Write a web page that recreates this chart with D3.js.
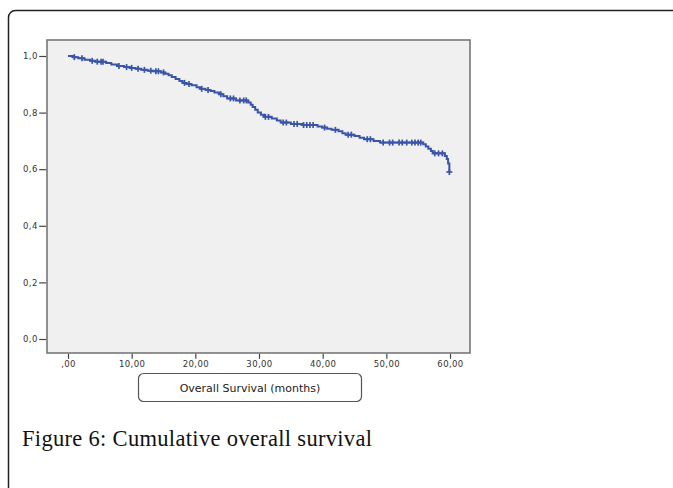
<!DOCTYPE html>
<html>
<head>
<meta charset="utf-8">
<script src="https://cdn.jsdelivr.net/npm/d3@7"></script>
<style>
  body { margin: 0; background: #fff; }
  svg { display: block; }
</style>
</head>
<body>
<div id="chart"></div>
<script>
// 数据区：Kaplan-Meier 阶梯（事件时间、累计生存率），删失时间
const eventTimes = [0.0, 0.8, 1.6, 2.6, 3.5, 4.3, 6.0, 6.8, 7.7, 8.8, 9.7, 10.6, 11.5, 12.5, 13.4, 14.6,
  15.2, 15.8, 16.3, 16.9, 17.5, 18.0, 18.6, 19.4, 20.2, 20.8, 21.6, 22.4, 23.0, 23.7, 24.4, 25.0,
  26.4, 28.3, 28.7, 29.0, 29.4, 29.8, 30.3, 30.8, 32.0, 32.8, 33.4, 35.0, 36.8, 39.2, 39.9, 40.7,
  41.4, 42.5, 43.1, 43.6, 45.0, 45.8, 46.5, 48.0, 49.0, 55.8, 56.2, 56.6, 57.0, 57.3, 59.2, 59.5,
  59.7, 59.9];
const survival = [1.000, 0.996, 0.992, 0.987, 0.983, 0.980, 0.975, 0.970, 0.965, 0.961, 0.958, 0.955,
  0.951, 0.948, 0.946, 0.942, 0.937, 0.932, 0.926, 0.919, 0.912, 0.905, 0.901, 0.897, 0.890, 0.884,
  0.880, 0.876, 0.871, 0.865, 0.858, 0.850, 0.843, 0.836, 0.828, 0.820, 0.810, 0.800, 0.792, 0.785,
  0.779, 0.772, 0.765, 0.760, 0.756, 0.751, 0.747, 0.743, 0.739, 0.734, 0.727, 0.722, 0.717, 0.711,
  0.706, 0.700, 0.694, 0.688, 0.680, 0.672, 0.664, 0.656, 0.647, 0.636, 0.620, 0.590];
const censorTimes = [1.0, 2.2, 3.8, 4.6, 5.2, 5.5, 8.0, 9.2, 10.0, 11.0, 12.0, 13.0, 13.8, 14.2, 15.0,
  18.3, 19.0, 21.0, 22.0, 24.0, 25.5, 26.0, 27.0, 27.6, 28.0, 31.0, 31.5, 33.8, 34.3, 35.5, 36.0,
  37.0, 37.5, 38.0, 38.5, 40.3, 42.0, 44.0, 44.5, 47.0, 47.5, 49.5, 50.5, 51.0, 52.0, 52.5, 53.2,
  54.0, 54.5, 55.0, 55.4, 57.6, 58.2, 58.8, 59.9];
const xTicks = [0, 10, 20, 30, 40, 50, 60];
const xTickLabels = [",00", "10,00", "20,00", "30,00", "40,00", "50,00", "60,00"];
const yTicks = [0, 0.2, 0.4, 0.6, 0.8, 1.0];
const yTickLabels = ["0,0", "0,2", "0,4", "0,6", "0,8", "1,0"];
const axisTitle = "Overall Survival (months)";
const caption = "Figure 6: Cumulative overall survival";

// 布局常量
const W = 673, H = 488;
const plot = { left: 47, top: 40, right: 470, bottom: 353 };
const blue = "#3a55a8";

const svg = d3.select("#chart").append("svg")
  .attr("width", W).attr("height", H);

// 外框（延伸出画面右侧和底部）
svg.append("rect")
  .attr("x", 8.5).attr("y", 10.5)
  .attr("width", 720).attr("height", 520)
  .attr("rx", 7)
  .attr("fill", "none")
  .attr("stroke", "#222")
  .attr("stroke-width", 1.5);

const xScale = d3.scaleLinear().domain([0, 60]).range([68, 450]);
const yScale = d3.scaleLinear().domain([0, 1]).range([339, 56]);

// 绘图区背景
svg.append("rect")
  .attr("x", plot.left).attr("y", plot.top)
  .attr("width", plot.right - plot.left).attr("height", plot.bottom - plot.top)
  .attr("fill", "#f0f0f0")
  .attr("stroke", "#777")
  .attr("stroke-width", 1.6);

// y轴
const yAxis = svg.append("g")
  .attr("transform", `translate(${plot.left - 0.8},0)`)
  .call(d3.axisLeft(yScale).tickValues(yTicks).tickSize(7).tickPadding(1.5)
    .tickFormat((d, i) => yTickLabels[i]));
yAxis.select(".domain").remove();
yAxis.selectAll("line").attr("stroke", "#444").attr("stroke-width", 1.2);
yAxis.selectAll("text")
  .style("font-family", "DejaVu Sans, sans-serif")
  .style("font-size", "8.5px")
  .style("letter-spacing", "0.4px")
  .attr("fill", "#333");

// x轴
const xAxis = svg.append("g")
  .attr("transform", `translate(0,${plot.bottom + 0.8})`)
  .call(d3.axisBottom(xScale).tickValues(xTicks).tickSize(5).tickPadding(2)
    .tickFormat((d, i) => xTickLabels[i]));
xAxis.select(".domain").remove();
xAxis.selectAll("line").attr("stroke", "#444").attr("stroke-width", 1.2);
xAxis.selectAll("text")
  .style("font-family", "DejaVu Sans, sans-serif")
  .style("font-size", "8.5px")
  .style("letter-spacing", "0.4px")
  .attr("fill", "#333");

// 生存曲线
const steps = eventTimes.map((t, i) => ({ t: t, s: survival[i] }));
const line = d3.line()
  .x(d => xScale(d.t))
  .y(d => yScale(d.s))
  .curve(d3.curveStepAfter);
svg.append("path")
  .attr("d", line(steps))
  .attr("fill", "none")
  .attr("stroke", blue)
  .attr("stroke-width", 2);

// 删失标记
function survAt(t) {
  let s = 1;
  for (let i = 0; i < eventTimes.length; i++) {
    if (eventTimes[i] <= t) s = survival[i];
  }
  return s;
}
const marks = svg.append("g").attr("stroke", blue).attr("stroke-width", 1.7);
censorTimes.forEach(t => {
  const cx = xScale(t), cy = yScale(survAt(t));
  marks.append("line").attr("x1", cx - 3).attr("x2", cx + 3).attr("y1", cy).attr("y2", cy);
  marks.append("line").attr("x1", cx).attr("x2", cx).attr("y1", cy - 3).attr("y2", cy + 3);
});

// 坐标轴标题框
svg.append("rect")
  .attr("x", 138.5).attr("y", 373.5)
  .attr("width", 223).attr("height", 28)
  .attr("rx", 5)
  .attr("fill", "#fff")
  .attr("stroke", "#555")
  .attr("stroke-width", 1.2);
svg.append("text")
  .attr("x", 250).attr("y", 391.5)
  .attr("text-anchor", "middle")
  .style("font-family", "DejaVu Sans, sans-serif")
  .style("font-size", "11px")
  .attr("fill", "#222")
  .text(axisTitle);

// 图注
svg.append("text")
  .attr("x", 22).attr("y", 446)
  .attr("textLength", 350)
  .attr("lengthAdjust", "spacing")
  .style("font-family", "Liberation Serif, serif")
  .style("font-size", "22.5px")
  .attr("fill", "#111")
  .text(caption);
</script>
</body>
</html>
